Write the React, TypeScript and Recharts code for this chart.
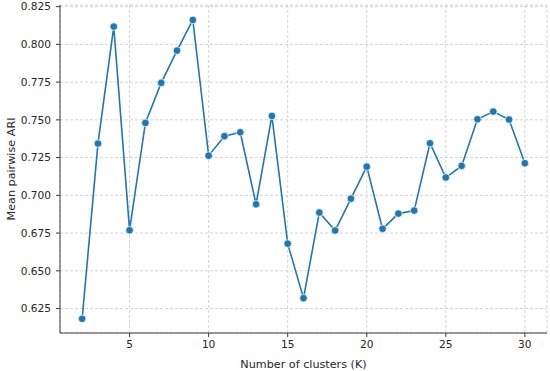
import { CartesianGrid, Line, LineChart, XAxis, YAxis } from "recharts";

const clusters = [2, 3, 4, 5, 6, 7, 8, 9, 10, 11, 12, 13, 14, 15, 16, 17, 18, 19, 20, 21, 22, 23, 24, 25, 26, 27, 28, 29, 30];
const meanAri = [
    0.6182, 0.7343, 0.8118, 0.6769, 0.748, 0.7745, 0.7959, 0.8162, 0.7263, 0.7392,
    0.7418, 0.6941, 0.7526, 0.668, 0.6319, 0.6886, 0.6767, 0.6978, 0.719, 0.6778,
    0.6879, 0.6899, 0.7345, 0.7118, 0.7195, 0.7504, 0.7555, 0.7502, 0.7213,
];
const xTicks = [5, 10, 15, 20, 25, 30];
const yTicks = [0.625, 0.65, 0.675, 0.7, 0.725, 0.75, 0.775, 0.8, 0.825];

const data = clusters.map((k, i) => ({ k, ari: meanAri[i] }));

const tickFont = { fontFamily: "DejaVu Sans", fontSize: 10.6, fill: "#262626" };
const labelFont = { fontFamily: "DejaVu Sans", fontSize: 11.2, fill: "#262626" };
const frame = "#3a3a3a";

export default function App() {
    return (
        <div style={{ position: "absolute", left: 0, top: 0 }}>
            <LineChart width={550} height={371} data={data} margin={{ top: 5, right: 3, left: 0, bottom: 0 }}>
                <CartesianGrid stroke="#d4d4d4" strokeDasharray="3 2" />
                <XAxis
                    dataKey="k"
                    type="number"
                    domain={[0.6, 31.4]}
                    ticks={xTicks}
                    height={38}
                    tickSize={4}
                    tickMargin={3}
                    tick={tickFont}
                    stroke={frame}
                    label={{ value: "Number of clusters (K)", position: "insideBottom", offset: 3, style: labelFont }}
                />
                <XAxis xAxisId="top" orientation="top" dataKey="k" type="number" domain={[0.6, 31.4]} height={0} tick={false} tickLine={false} stroke={frame} />
                <YAxis
                    type="number"
                    domain={[0.6088, 0.8261]}
                    ticks={yTicks}
                    width={60}
                    tickSize={4}
                    tickMargin={5}
                    tick={tickFont}
                    stroke={frame}
                    tickFormatter={(v: number) => v.toFixed(3)}
                    label={{ value: "Mean pairwise ARI", angle: -90, position: "insideLeft", offset: 11, style: { ...labelFont, textAnchor: "middle" } }}
                />
                <YAxis yAxisId="right" orientation="right" domain={[0.6088, 0.8261]} width={0} tick={false} tickLine={false} stroke={frame} />
                <Line
                    dataKey="ari"
                    stroke="#1f77b4"
                    strokeWidth={1.6}
                    dot={{ r: 3.8, fill: "#1f77b4", stroke: "#ffffff", strokeWidth: 0.7 }}
                    isAnimationActive={false}
                />
            </LineChart>
        </div>
    );
}
